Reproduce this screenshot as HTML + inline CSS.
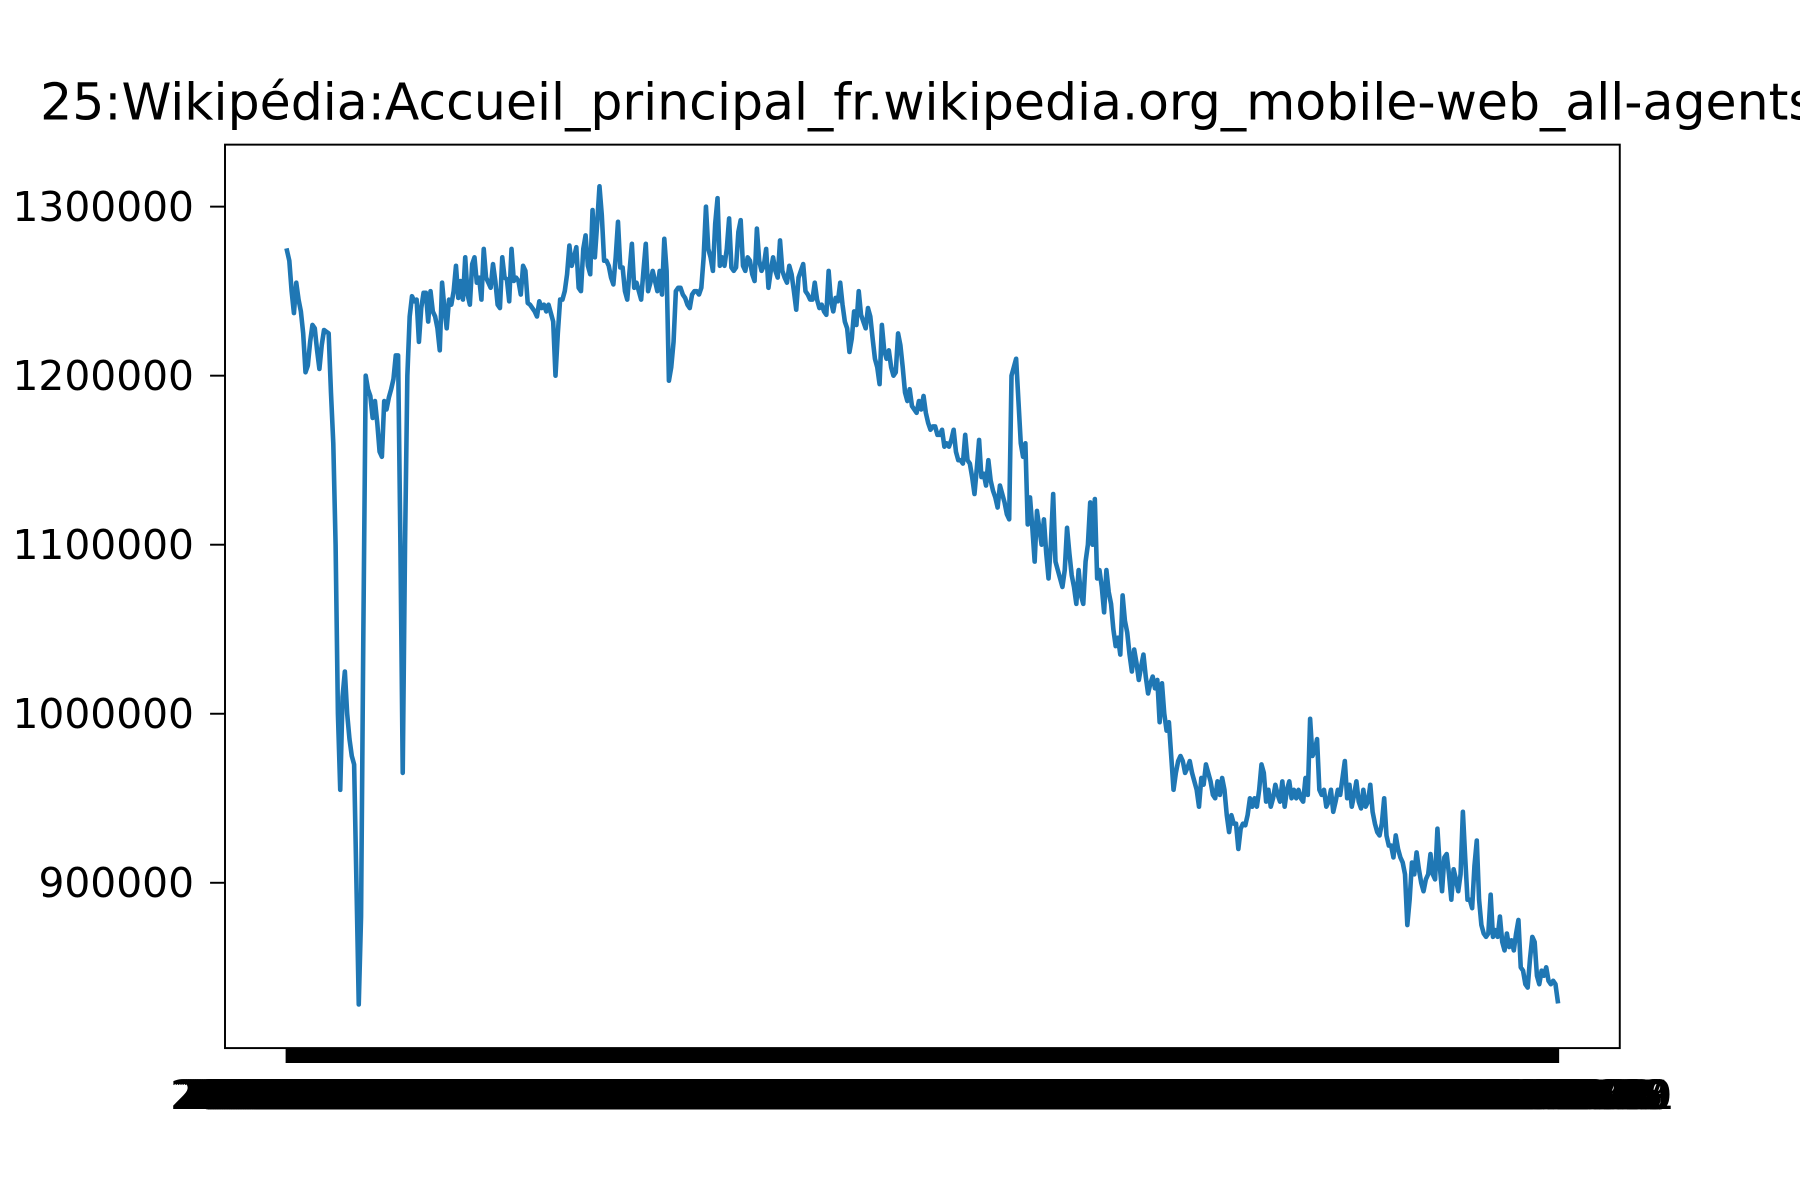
<!DOCTYPE html>
<html><head><meta charset="utf-8"><style>
html,body{margin:0;padding:0;background:#fff;}
svg{display:block;}
text{font-family:"DejaVu Sans","Liberation Sans",sans-serif;fill:#000;}
</style></head>
<body>
<svg id="chart" width="1800" height="1200" viewBox="0 0 1568 1045.33" xmlns="http://www.w3.org/2000/svg">
<rect x="0" y="0" width="1568" height="1045.33" fill="#fff"/>
<text x="35" y="104" font-size="44">25:Wikipédia:Accueil_principal_fr.wikipedia.org_mobile-web_all-agents</text>
<g id="xticks"></g>
<g id="yticks"></g>
<g id="series"></g>
<rect x="196" y="126" width="1215" height="787" fill="none" stroke="#000" stroke-width="1.7"/>
</svg>
<script>
const startDate = "2015-07-01";
const yTickValues = [900000, 1000000, 1100000, 1200000, 1300000];
const yTickLabels = ["900000", "1000000", "1100000", "1200000", "1300000"];
const viewsK = [
1274,1268,1250,1237,1255,1245,1238,
1225,1202,1206,1220,1230,1228,1215,
1204,1218,1227,1226,1225,1190,1160,
1100,1000,955,1010,1025,1000,985,
975,970,900,828,880,1050,1200,
1192,1188,1175,1185,1172,1155,1152,
1185,1180,1187,1192,1198,1212,1212,
1100,965,1100,1200,1235,1247,1244,
1245,1220,1240,1249,1249,1232,1250,
1238,1235,1228,1215,1255,1240,1228,
1245,1242,1250,1265,1246,1256,1245,
1270,1248,1242,1266,1270,1255,1258,
1245,1275,1258,1255,1252,1266,1256,
1242,1240,1270,1258,1257,1244,1275,
1256,1258,1256,1248,1265,1262,1243,
1242,1240,1238,1235,1244,1240,1242,
1238,1242,1237,1232,1200,1225,1245,
1245,1250,1260,1277,1265,1270,1276,
1252,1250,1275,1283,1265,1260,1298,
1270,1290,1312,1295,1268,1268,1265,
1258,1254,1270,1291,1264,1264,1250,
1245,1262,1278,1252,1255,1250,1245,
1262,1278,1250,1255,1262,1256,1250,
1262,1248,1281,1262,1197,1205,1220,
1250,1252,1252,1248,1246,1242,1240,
1248,1250,1250,1248,1252,1270,1300,
1275,1270,1262,1290,1305,1265,1270,
1265,1275,1293,1264,1262,1264,1285,
1292,1265,1262,1270,1268,1260,1256,
1287,1268,1262,1265,1275,1252,1262,
1270,1262,1258,1280,1262,1258,1255,
1265,1260,1250,1239,1258,1262,1266,
1250,1248,1245,1245,1255,1245,1240,
1242,1238,1236,1262,1244,1238,1246,
1244,1255,1242,1232,1228,1214,1222,
1238,1230,1250,1236,1232,1228,1240,
1235,1222,1210,1205,1195,1230,1215,
1210,1215,1205,1200,1202,1225,1218,
1205,1190,1185,1192,1182,1180,1178,
1185,1180,1188,1178,1172,1168,1170,
1170,1165,1165,1168,1158,1160,1158,
1162,1168,1155,1150,1150,1148,1165,
1150,1148,1140,1130,1145,1162,1140,
1142,1135,1150,1138,1132,1128,1122,
1135,1130,1125,1118,1115,1200,1205,
1210,1185,1160,1152,1160,1112,1128,
1110,1090,1120,1110,1100,1115,1095,
1080,1100,1130,1090,1085,1080,1075,
1085,1110,1095,1082,1075,
1065,1085,1070,1065,1090,1100,1125,
1100,1127,1080,1085,1075,1060,1085,
1072,1065,1050,1040,1045,1035,1070,
1055,1048,1035,1025,1038,1030,1020,
1028,1035,1022,1012,1018,
1022,1015,1020,995,1018,1000,990,
995,975,955,965,972,975,972,
965,968,972,965,960,955,945,
962,958,970,965,960,952,950,
960,952,962,955,940,930,940,
935,935,920,932,935,934,940,
950,945,950,945,955,970,965,
948,955,945,950,958,952,948,
960,945,955,960,950,955,950,
955,950,948,962,952,997,975,
978,985,955,952,955,945,948,
955,942,948,955,952,962,972,
950,958,945,952,960,948,944,
955,945,948,958,942,935,930,
928,935,950,928,922,922,915,
928,920,915,912,905,875,890,
912,905,918,908,900,895,902,905,
917,905,902,932,910,895,915,
917,905,890,908,902,895,905,
942,915,890,890,885,910,925,
890,875,870,868,870,893,868,
872,868,880,865,860,870,862,
866,860,870,878,850,848,840,
838,855,868,865,845,840,848,
845,850,842,
840,842,840,830
];

const NS = "http://www.w3.org/2000/svg";
const X0 = 250, X1 = 1357, YTOP = 126, YBOT = 913;
const n = viewsK.length;
function xScale(i){ return X0 + i * (X1 - X0) / (n - 1); }
function yScale(v){ return 180 + (1300000 - v) * (769 - 180) / 400000; }

const categories = [];
const d0 = new Date(startDate + "T00:00:00Z");
for (let i = 0; i < n; i++) {
  const d = new Date(d0.getTime() + i * 86400000);
  categories.push(d.toISOString().slice(0, 10));
}

const xg = document.getElementById("xticks");
categories.forEach((c, i) => {
  const x = xScale(i);
  const t = document.createElementNS(NS, "line");
  t.setAttribute("x1", x); t.setAttribute("x2", x);
  t.setAttribute("y1", YBOT); t.setAttribute("y2", YBOT + 13);
  t.setAttribute("stroke", "#000"); t.setAttribute("stroke-width", "2.4");
  
  
  xg.appendChild(t);
  const l = document.createElementNS(NS, "text");
  l.setAttribute("x", x); l.setAttribute("y", 966);
  l.setAttribute("text-anchor", "middle"); l.setAttribute("font-size", "35");
  l.textContent = c;
  
  
  xg.appendChild(l);
});

const yg = document.getElementById("yticks");
yTickValues.forEach((v, i) => {
  const y = yScale(v);
  const t = document.createElementNS(NS, "line");
  t.setAttribute("x1", 183); t.setAttribute("x2", 196);
  t.setAttribute("y1", y); t.setAttribute("y2", y);
  t.setAttribute("stroke", "#000"); t.setAttribute("stroke-width", "1.7");
  
  
  yg.appendChild(t);
  const l = document.createElementNS(NS, "text");
  l.setAttribute("x", 169); l.setAttribute("y", y + 12.5);
  l.setAttribute("text-anchor", "end"); l.setAttribute("font-size", "35.5");
  l.textContent = yTickLabels[i];
  
  
  yg.appendChild(l);
});

const sg = document.getElementById("series");
const pts = viewsK.map((v, i) => xScale(i).toFixed(2) + "," + yScale(v * 1000).toFixed(2)).join(" ");
const pl = document.createElementNS(NS, "polyline");
pl.setAttribute("points", pts);
pl.setAttribute("fill", "none");
pl.setAttribute("stroke", "#1f77b4");
pl.setAttribute("stroke-width", "4");
pl.setAttribute("stroke-linejoin", "round");
pl.setAttribute("stroke-linecap", "square");


sg.appendChild(pl);
</script>
</body></html>
